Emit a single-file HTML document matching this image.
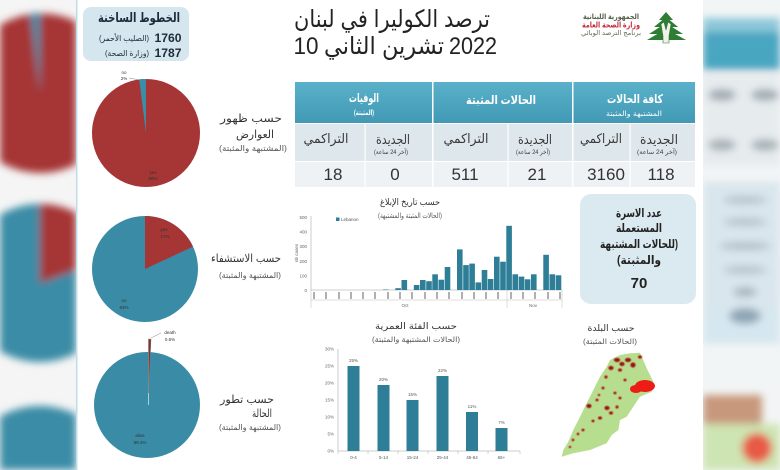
<!DOCTYPE html>
<html style="width:780px;height:470px;overflow:hidden"><head><meta charset="utf-8">
<style>
*{margin:0;padding:0}
html,body{width:780px;height:470px;overflow:hidden;background:#fff}
body{position:relative}
svg{display:block;position:absolute;left:0;top:0}
</style></head><body>
<svg xmlns="http://www.w3.org/2000/svg" width="780" height="470" viewBox="0 0 780 470" font-family="Liberation Sans, DejaVu Sans, sans-serif" overflow="hidden">
<defs>
<filter id="bl" x="-30%" y="-30%" width="160%" height="160%"><feGaussianBlur stdDeviation="4"/></filter>
<filter id="bl2" x="-30%" y="-30%" width="160%" height="160%"><feGaussianBlur stdDeviation="0.6"/></filter>
<clipPath id="cl"><rect x="0" y="0" width="76" height="470"/></clipPath>
<clipPath id="cr"><rect x="703" y="0" width="77" height="470"/></clipPath>
<linearGradient id="hg" x1="0" y1="0" x2="0" y2="1"><stop offset="0" stop-color="#5ab1c9"/><stop offset="1" stop-color="#4299b5"/></linearGradient>
</defs>
<rect width="780" height="470" fill="#fff"/>

<!-- LEFT BLURRED STRIP -->
<g clip-path="url(#cl)">
<rect x="0" y="0" width="77" height="470" fill="#f5f5f5"/>
<g filter="url(#bl)">
<path d="M0 25 A80 80 0 0 1 76 21.5 L76 164.5 A80 80 0 0 1 0 162 Z" fill="#a63535"/>
<path d="M40 93 L30.2 13.6 A80 80 0 0 1 40 13 Z" fill="#3b8ea8"/>
<path d="M0 214.8 A79 79 0 0 1 76 212.7 L76 353.3 A79 79 0 0 1 0 351.2 Z" fill="#3a8ca6"/>
<path d="M40 283 L40 204 A79 79 0 0 1 76 212.7 L76 270 Z" fill="#a63535"/>
<path d="M0 470 L0 416.4 A82 82 0 0 1 76 414.3 L76 470 Z" fill="#3a8ca6"/>
</g>
</g>
<rect x="76" y="0" width="1.5" height="470" fill="#bcdcea"/>

<!-- RIGHT BLURRED STRIP -->
<g clip-path="url(#cr)">
<rect x="703" y="0" width="77" height="470" fill="#f2f5f6"/>
<g filter="url(#bl)">
<rect x="703" y="24" width="77" height="46" fill="#4aa6c1"/>
<rect x="703" y="18" width="77" height="14" fill="#8cc7d8"/>
<rect x="703" y="74" width="77" height="92" fill="#e6ebee"/>
<ellipse cx="722" cy="95" rx="14" ry="6" fill="#a1acb3"/>
<ellipse cx="765" cy="95" rx="14" ry="6" fill="#a1acb3"/>
<ellipse cx="722" cy="145" rx="14" ry="6" fill="#a8b2b8"/>
<ellipse cx="765" cy="145" rx="14" ry="6" fill="#a8b2b8"/>
<rect x="703" y="182" width="77" height="126" fill="#d9e6ed"/>
<ellipse cx="745" cy="200" rx="22" ry="4" fill="#b7c3ca"/>
<ellipse cx="745" cy="222" rx="22" ry="4" fill="#b7c3ca"/>
<ellipse cx="745" cy="246" rx="26" ry="4" fill="#b3bfc7"/>
<ellipse cx="745" cy="270" rx="22" ry="4" fill="#b7c3ca"/>
<ellipse cx="745" cy="292" rx="12" ry="5" fill="#a9b6be"/>
<rect x="703" y="308" width="77" height="36" fill="#d6e7ef"/>
<ellipse cx="745" cy="316" rx="16" ry="8" fill="#8ea4b6"/>
<rect x="703" y="395" width="59" height="32" fill="#c8987c"/>
<rect x="703" y="424" width="77" height="46" fill="#cde5b2"/>
<circle cx="757" cy="448" r="15" fill="#e85a45"/>
</g>
</g>

<!-- HOTLINE BOX -->
<rect x="83" y="7" width="106" height="54" rx="8" fill="#d5e6ef"/>
<text x="139" y="22" font-size="13" font-weight="bold" fill="#1d2b3a" text-anchor="middle" textLength="82" lengthAdjust="spacingAndGlyphs">الخطوط الساخنة</text>
<text x="168" y="42" font-size="12" font-weight="bold" fill="#1d2b3a" text-anchor="middle" textLength="27" lengthAdjust="spacingAndGlyphs">1760</text>
<text x="124" y="41" font-size="8" fill="#1d2b3a" text-anchor="middle" direction="rtl" textLength="50" lengthAdjust="spacingAndGlyphs">(الصليب الأحمر)</text>
<text x="168" y="57" font-size="12" font-weight="bold" fill="#1d2b3a" text-anchor="middle" textLength="27" lengthAdjust="spacingAndGlyphs">1787</text>
<text x="127" y="56" font-size="8" fill="#1d2b3a" text-anchor="middle" direction="rtl" textLength="44" lengthAdjust="spacingAndGlyphs">(وزارة الصحة)</text>

<!-- TITLE -->
<text x="392" y="27" font-size="24" fill="#222" text-anchor="middle" textLength="196" lengthAdjust="spacingAndGlyphs">ترصد الكوليرا في لبنان</text>
<text x="306" y="54" font-size="24" fill="#222" text-anchor="middle" textLength="25" lengthAdjust="spacingAndGlyphs">10</text>
<text x="384" y="54" font-size="24" fill="#222" text-anchor="middle" textLength="120" lengthAdjust="spacingAndGlyphs">تشرين الثاني</text>
<text x="473" y="54" font-size="24" fill="#222" text-anchor="middle" textLength="48" lengthAdjust="spacingAndGlyphs">2022</text>

<!-- LOGO -->
<text x="611" y="19" font-size="7.5" font-weight="bold" fill="#55604a" text-anchor="middle" textLength="56" lengthAdjust="spacingAndGlyphs">الجمهورية اللبنانية</text>
<text x="611" y="27.5" font-size="8" font-weight="bold" fill="#c42a3c" text-anchor="middle" textLength="58" lengthAdjust="spacingAndGlyphs">وزارة الصحة العامة</text>
<text x="611" y="35" font-size="6.5" fill="#5d6b4e" text-anchor="middle" textLength="60" lengthAdjust="spacingAndGlyphs">برنامج الترصد الوبائي</text>
<g fill="#2f7d34">
<path d="M666 12 L673 20 L659 20 Z"/>
<path d="M666 17 L678 27 L654 27 Z"/>
<path d="M666 23 L683 34 L649 34 Z"/>
<path d="M666 29 L686 40 L647 40 Z"/>
</g>
<path d="M661 24 L664 22 L666 30 L668 22 L671 24 L669 36 L669 43 L663 43 L663 36 Z" fill="#f2f2ea" stroke="#2f7d34" stroke-width="0.6"/>

<!-- TABLE -->
<rect x="295" y="82" width="400" height="41" fill="url(#hg)"/>
<rect x="295" y="124" width="400" height="37" fill="#dee7ec"/>
<rect x="295" y="162" width="400" height="25" fill="#eef2f4"/>
<g fill="#fff">
<rect x="432" y="82" width="1.5" height="105"/>
<rect x="572" y="82" width="1.5" height="105"/>
<rect x="364.5" y="124" width="1.2" height="63"/>
<rect x="507.5" y="124" width="1.2" height="63"/>
<rect x="629.5" y="124" width="1.2" height="63"/>
</g>
<g fill="#fff" font-weight="bold" text-anchor="middle">
<text x="364" y="102" font-size="12" textLength="30" lengthAdjust="spacingAndGlyphs">الوفيات</text>
<text x="364" y="115" font-size="7" textLength="20" lengthAdjust="spacingAndGlyphs">(المثبتة)</text>
<text x="501" y="104" font-size="12" textLength="70" lengthAdjust="spacingAndGlyphs">الحالات المثبتة</text>
<text x="635" y="103" font-size="12" textLength="56" lengthAdjust="spacingAndGlyphs">كافة الحالات</text>
<text x="634" y="116" font-size="7" font-weight="normal" textLength="56" lengthAdjust="spacingAndGlyphs">المشتبهة والمثبتة</text>
</g>
<g fill="#3a3a3a" text-anchor="middle">
<text x="326" y="143" font-size="13" textLength="45" lengthAdjust="spacingAndGlyphs">التراكمي</text>
<text x="466" y="143" font-size="13" textLength="45" lengthAdjust="spacingAndGlyphs">التراكمي</text>
<text x="601" y="143" font-size="13" textLength="42" lengthAdjust="spacingAndGlyphs">التراكمي</text>
<text x="393" y="144" font-size="13" textLength="34" lengthAdjust="spacingAndGlyphs">الجديدة</text>
<text x="535" y="144" font-size="13" textLength="34" lengthAdjust="spacingAndGlyphs">الجديدة</text>
<text x="659" y="144" font-size="13" textLength="38" lengthAdjust="spacingAndGlyphs">الجديدة</text>
<text x="391" y="154" font-size="6" direction="rtl" textLength="34" lengthAdjust="spacingAndGlyphs">(آخر 24 ساعة)</text>
<text x="533" y="154" font-size="6" direction="rtl" textLength="34" lengthAdjust="spacingAndGlyphs">(آخر 24 ساعة)</text>
<text x="657" y="154" font-size="6" direction="rtl" textLength="40" lengthAdjust="spacingAndGlyphs">(آخر 24 ساعة)</text>
</g>
<g fill="#333" font-size="17" text-anchor="middle">
<text x="333" y="180">18</text>
<text x="395" y="180">0</text>
<text x="465" y="180">511</text>
<text x="537" y="180">21</text>
<text x="606" y="180">3160</text>
<text x="661" y="180">118</text>
</g>

<!-- PIE 1 -->
<circle cx="146" cy="133" r="54" fill="#a63535"/>
<path d="M146 133 L139.2 79.4 A54 54 0 0 1 146 79 Z" fill="#3b8ea8"/>
<line x1="129" y1="78" x2="140" y2="80" stroke="#888" stroke-width="0.5"/>
<g font-size="4.5" fill="#333" text-anchor="middle">
<text x="124" y="74">no</text><text x="124" y="80">2%</text>
<text x="153" y="174">yes</text><text x="153" y="180">98%</text>
</g>
<g fill="#333" text-anchor="middle">
<text x="251" y="122" font-size="11" textLength="62" lengthAdjust="spacingAndGlyphs">حسب ظهور</text>
<text x="255" y="138" font-size="11" textLength="38" lengthAdjust="spacingAndGlyphs">العوارض</text>
<text x="253" y="151" font-size="8" fill="#555" textLength="68" lengthAdjust="spacingAndGlyphs">(المشتبهة والمثبتة)</text>
</g>

<!-- PIE 2 -->
<circle cx="145" cy="269" r="53" fill="#3a8ca6"/>
<path d="M145 269 L145 216 A53 53 0 0 1 193 246.6 Z" fill="#a63535"/>
<g font-size="4.5" fill="#333" text-anchor="middle">
<text x="164" y="231">yes</text><text x="165" y="238">17%</text>
<text x="124" y="302">no</text><text x="124" y="309">83%</text>
</g>
<g fill="#333" text-anchor="middle">
<text x="246" y="262" font-size="11" textLength="70" lengthAdjust="spacingAndGlyphs">حسب الاستشفاء</text>
<text x="250" y="278" font-size="8" fill="#555" textLength="62" lengthAdjust="spacingAndGlyphs">(المشتبهة والمثبتة)</text>
</g>

<!-- PIE 3 -->
<circle cx="147" cy="405" r="53" fill="#3a8ca6"/>
<line x1="148.5" y1="352" x2="148.5" y2="405" stroke="#c9dce3" stroke-width="0.8"/>
<path d="M148.5 393 L148.5 339 L151 339.1 Z" fill="#8a2f2f" stroke="#777" stroke-width="0.5"/>
<line x1="151" y1="338" x2="161" y2="333" stroke="#888" stroke-width="0.5"/>
<g font-size="4.5" fill="#333" text-anchor="middle">
<text x="170" y="334">death</text><text x="170" y="341">0.6%</text>
<text x="140" y="437">alive</text><text x="140" y="444">99.4%</text>
</g>
<g fill="#333" text-anchor="middle">
<text x="247" y="403" font-size="11" textLength="54" lengthAdjust="spacingAndGlyphs">حسب تطور</text>
<text x="262" y="417" font-size="11" textLength="20" lengthAdjust="spacingAndGlyphs">الحالة</text>
<text x="250" y="430" font-size="8" fill="#555" textLength="62" lengthAdjust="spacingAndGlyphs">(المشتبهة والمثبتة)</text>
</g>

<!-- BAR CHART BY DATE -->
<g fill="#333" text-anchor="middle">
<text x="410" y="205" font-size="9" textLength="60" lengthAdjust="spacingAndGlyphs">حسب تاريخ الإبلاغ</text>
<text x="410" y="218" font-size="7" fill="#555" textLength="64" lengthAdjust="spacingAndGlyphs">(الحالات المثبتة والمشتبهة)</text>
</g>
<g font-size="4.5" fill="#666" text-anchor="end">
<text x="307" y="219">500</text><text x="307" y="233.5">400</text><text x="307" y="248">300</text>
<text x="307" y="263">200</text><text x="307" y="277.5">100</text><text x="307" y="292">0</text>
</g>
<text transform="translate(298,253) rotate(-90)" font-size="4.5" fill="#666" text-anchor="middle">nb cases</text>
<rect x="336" y="217.5" width="3.5" height="3.5" fill="#2d7e96"/>
<text x="341" y="221" font-size="4.5" fill="#555">Lebanon</text>
<line x1="311" y1="216" x2="311" y2="290" stroke="#aaa" stroke-width="0.6"/>
<line x1="311" y1="290" x2="562" y2="290" stroke="#999" stroke-width="0.6"/>
<g fill="#2d7e96">
<rect x="383" y="289.5" width="5.6" height="0.5"/>
<rect x="395.3" y="288.2" width="5.6" height="1.8"/>
<rect x="401.5" y="280" width="5.6" height="10"/>
<rect x="413.8" y="285" width="5.6" height="5"/>
<rect x="420" y="280" width="5.6" height="10"/>
<rect x="426.2" y="281.2" width="5.6" height="8.8"/>
<rect x="432.3" y="274.3" width="5.6" height="15.7"/>
<rect x="438.5" y="279.7" width="5.6" height="10.3"/>
<rect x="444.7" y="267" width="5.6" height="23"/>
<rect x="457" y="249.4" width="5.6" height="40.6"/>
<rect x="463.2" y="265.1" width="5.6" height="24.9"/>
<rect x="469.3" y="263.6" width="5.6" height="26.4"/>
<rect x="475.5" y="282.4" width="5.6" height="7.6"/>
<rect x="481.7" y="270" width="5.6" height="20"/>
<rect x="487.8" y="279" width="5.6" height="11"/>
<rect x="494" y="256.7" width="5.6" height="33.3"/>
<rect x="500.2" y="261.7" width="5.6" height="28.3"/>
<rect x="506.3" y="225.8" width="5.6" height="64.2"/>
<rect x="512.5" y="274.3" width="5.6" height="15.7"/>
<rect x="518.7" y="276.6" width="5.6" height="13.4"/>
<rect x="524.8" y="279.3" width="5.6" height="10.7"/>
<rect x="531" y="274.3" width="5.6" height="15.7"/>
<rect x="543.3" y="254.8" width="5.6" height="35.2"/>
<rect x="549.5" y="274.3" width="5.6" height="15.7"/>
<rect x="555.7" y="275.3" width="5.6" height="14.7"/>
</g>
<g fill="#b0b0b0">
<rect x="313" y="292" width="2" height="7"/><rect x="325" y="292" width="2" height="7"/>
<rect x="338" y="292" width="2" height="7"/><rect x="350" y="292" width="2" height="7"/>
<rect x="362" y="292" width="2" height="7"/><rect x="374" y="292" width="2" height="7"/>
<rect x="387" y="292" width="2" height="7"/><rect x="399" y="292" width="2" height="7"/>
<rect x="411" y="292" width="2" height="7"/><rect x="424" y="292" width="2" height="7"/>
<rect x="436" y="292" width="2" height="7"/><rect x="448" y="292" width="2" height="7"/>
<rect x="461" y="292" width="2" height="7"/><rect x="473" y="292" width="2" height="7"/>
<rect x="485" y="292" width="2" height="7"/><rect x="497" y="292" width="2" height="7"/>
<rect x="510" y="292" width="2" height="7"/><rect x="522" y="292" width="2" height="7"/>
<rect x="534" y="292" width="2" height="7"/><rect x="547" y="292" width="2" height="7"/>
<rect x="559" y="292" width="2" height="7"/>
</g>
<g stroke="#bbb" stroke-width="0.5">
<line x1="311" y1="290" x2="311" y2="308"/>
<line x1="507" y1="290" x2="507" y2="308"/>
<line x1="562" y1="290" x2="562" y2="308"/>
<line x1="311" y1="300" x2="562" y2="300"/>
</g>
<text x="405" y="307" font-size="4.5" fill="#666" text-anchor="middle">Oct</text>
<text x="533" y="307" font-size="4.5" fill="#666" text-anchor="middle">Nov</text>

<!-- FAMILY BOX -->
<rect x="580" y="194" width="116" height="110" rx="11" fill="#dbe9f0"/>
<g fill="#222" font-weight="bold" text-anchor="middle">
<text x="639" y="217" font-size="12" textLength="46" lengthAdjust="spacingAndGlyphs">عدد الاسرة</text>
<text x="639" y="232" font-size="12" textLength="46" lengthAdjust="spacingAndGlyphs">المستعملة</text>
<text x="639" y="248" font-size="12" direction="rtl" textLength="78" lengthAdjust="spacingAndGlyphs">(للحالات المشتبهة</text>
<text x="639" y="264" font-size="12" direction="rtl" textLength="44" lengthAdjust="spacingAndGlyphs">والمثبتة)</text>
<text x="639" y="288" font-size="15">70</text>
</g>

<!-- AGE CHART -->
<g fill="#333" text-anchor="middle">
<text x="416" y="329" font-size="9" textLength="82" lengthAdjust="spacingAndGlyphs">حسب الفئة العمرية</text>
<text x="416" y="342" font-size="7.5" fill="#555" textLength="88" lengthAdjust="spacingAndGlyphs">(الحالات المشتبهة والمثبتة)</text>
</g>
<g font-size="4.5" fill="#666" text-anchor="end">
<text x="334" y="350.5">30%</text><text x="334" y="367.5">25%</text><text x="334" y="384.5">20%</text>
<text x="334" y="401.5">15%</text><text x="334" y="418.5">10%</text><text x="334" y="435.5">5%</text>
<text x="334" y="452.5">0%</text>
</g>
<line x1="338" y1="349" x2="338" y2="451" stroke="#aaa" stroke-width="0.6"/>
<line x1="338" y1="451" x2="520" y2="451" stroke="#999" stroke-width="0.6"/>
<g stroke="#aaa" stroke-width="0.5">
<line x1="338" y1="451" x2="338" y2="454"/><line x1="368" y1="451" x2="368" y2="454"/>
<line x1="398" y1="451" x2="398" y2="454"/><line x1="428" y1="451" x2="428" y2="454"/>
<line x1="458" y1="451" x2="458" y2="454"/><line x1="488" y1="451" x2="488" y2="454"/>
<line x1="520" y1="451" x2="520" y2="454"/>
</g>
<g fill="#2d7e96">
<rect x="347.5" y="366" width="12" height="85"/>
<rect x="377.5" y="385" width="12" height="66"/>
<rect x="406.5" y="400" width="12" height="51"/>
<rect x="436.5" y="376" width="12" height="75"/>
<rect x="466" y="412" width="12" height="39"/>
<rect x="495.5" y="428" width="12" height="23"/>
</g>
<g font-size="4.5" fill="#555" text-anchor="middle">
<text x="353.5" y="362">25%</text><text x="383.5" y="381">20%</text><text x="412.5" y="396">15%</text>
<text x="442.5" y="372">22%</text><text x="472" y="408">11%</text><text x="501.5" y="424">7%</text>
<text x="353.5" y="459">0-4</text><text x="383.5" y="459">5-14</text><text x="412.5" y="459">15-24</text>
<text x="442.5" y="459">25-44</text><text x="472" y="459">45-64</text><text x="501.5" y="459">65+</text>
</g>

<!-- MAP -->
<g fill="#333" text-anchor="middle">
<text x="611" y="331" font-size="9" textLength="47" lengthAdjust="spacingAndGlyphs">حسب البلدة</text>
<text x="610" y="344" font-size="7.5" fill="#555" textLength="54" lengthAdjust="spacingAndGlyphs">(الحالات المثبتة)</text>
</g>
<path d="M640 352.7 L646.7 368.3 L653.3 381.7 L651.7 391.7 L640 396.7 L633.3 406.7 L626.7 416.7 L620 420 L618.3 430 L611.7 435 L606.7 443.3 L590 450 L573.3 453.3 L561.7 456.7 L563.3 450 L568.3 441.7 L573.3 430 L580 416.7 L586.7 403.3 L593.3 390 L600 376.7 L606.7 366.7 L610 360 L620 355 L630 353.3 Z" fill="#b7de8f"/>
<g fill="#8a1c16" stroke="#d33" stroke-width="0.5" filter="url(#bl2)">
<ellipse cx="611" cy="368" rx="2.5" ry="2"/><ellipse cx="617" cy="360" rx="3" ry="2"/>
<ellipse cx="622" cy="364" rx="2.5" ry="2"/><ellipse cx="628" cy="360" rx="3" ry="2"/>
<ellipse cx="633" cy="365" rx="2.5" ry="2.5"/><ellipse cx="620" cy="370" rx="2" ry="1.5"/>
<ellipse cx="640" cy="357" rx="2" ry="1.5"/><ellipse cx="606" cy="377" rx="1.5" ry="1.5"/>
<ellipse cx="603" cy="388" rx="1.5" ry="1.2"/><ellipse cx="597" cy="400" rx="1.5" ry="1.2"/>
<ellipse cx="589" cy="406" rx="2.5" ry="2"/><ellipse cx="607" cy="408" rx="2.5" ry="2"/>
<ellipse cx="611" cy="413" rx="2" ry="1.5"/><ellipse cx="617" cy="407" rx="1.5" ry="1.5"/>
<ellipse cx="600" cy="418" rx="2" ry="1.5"/><ellipse cx="593" cy="421" rx="1.5" ry="1.2"/>
<ellipse cx="583" cy="430" rx="1.5" ry="1.2"/><ellipse cx="578" cy="434" rx="1.2" ry="1.2"/>
<ellipse cx="573" cy="440" rx="1.2" ry="1.2"/><ellipse cx="570" cy="447" rx="1.2" ry="1"/>
<ellipse cx="620" cy="398" rx="1.5" ry="1.2"/><ellipse cx="615" cy="393" rx="1.5" ry="1.2"/>
<ellipse cx="625" cy="380" rx="1.5" ry="1.2"/><ellipse cx="599" cy="395" rx="1.2" ry="1"/>
</g>
<g fill="#ee1c16">
<ellipse cx="645" cy="386" rx="10" ry="6"/>
<ellipse cx="636" cy="389" rx="6" ry="4"/>
</g>
</svg>
</body></html>
